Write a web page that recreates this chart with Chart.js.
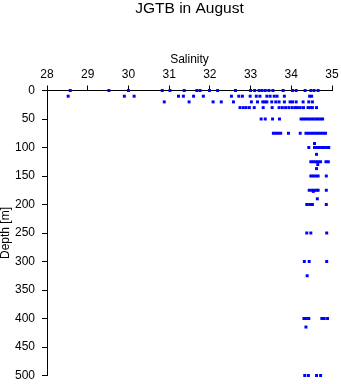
<!DOCTYPE html>
<html><head><meta charset="utf-8">
<script src="https://cdn.jsdelivr.net/npm/chart.js@4"></script>
<style>html,body{margin:0;padding:0;background:#fff}#wrap{width:341px;height:384px}</style>
</head><body><div id="wrap"><canvas id="c" width="341" height="384"></canvas></div>
<script>
// Sample depths [m]
const depthLevels = [0, 10, 20, 30, 50, 75, 93, 100, 112, 125, 130, 137, 150, 175, 177, 190, 200, 250, 300, 325, 400, 415, 500];
// Salinity readings at each depth
const sal0   = [28.57, 29.52, 30.00, 30.83, 31.02, 31.37, 31.68, 31.76, 31.99, 32.19, 32.63, 33.00, 33.10, 33.21, 33.28, 33.36, 33.45, 33.55, 33.80, 34.03, 34.12, 34.34, 34.48, 34.56, 34.66];
const sal10  = [28.52, 29.90, 30.14, 31.23, 31.35, 31.60, 31.84, 32.53, 32.71, 32.80, 32.99, 33.14, 33.23, 33.40, 33.48, 33.58, 33.65, 33.83, 34.45, 34.50];
const sal20  = [30.88, 31.49, 32.08, 32.28, 32.58, 33.02, 33.17, 33.30, 33.35, 33.40, 33.52, 33.62, 33.70, 33.83, 33.97, 34.03, 34.12, 34.29, 34.43, 34.52];
const sal30  = [32.74, 32.82, 32.89, 32.97, 33.09, 33.31, 33.53, 33.70, 33.78, 33.86, 33.94, 34.02, 34.09, 34.15, 34.22, 34.30, 34.41, 34.47, 34.52, 34.62];
const sal50  = [33.26, 33.36, 33.54, 33.71, 34.24, 34.30, 34.36, 34.42, 34.48, 34.54, 34.60, 34.66, 34.72, 34.77];
const sal75  = [33.56, 33.62, 33.68, 33.74, 33.93, 34.22, 34.36, 34.42, 34.48, 34.54, 34.60, 34.66, 34.72, 34.78, 34.84];
const sal93  = [34.57];
const sal100 = [34.43, 34.57, 34.63, 34.69, 34.75, 34.81, 34.87, 34.92];
const sal112 = [34.62];
const sal125 = [34.48, 34.54, 34.60, 34.66, 34.72, 34.85, 34.91];
const sal130 = [34.65];
const sal137 = [34.62];
const sal150 = [34.48, 34.54, 34.60, 34.66, 34.86];
const sal175 = [34.44, 34.50, 34.56, 34.62, 34.66, 34.86];
const sal177 = [34.54];
const sal190 = [34.64];
const sal200 = [34.38, 34.45, 34.52, 34.86];
const sal250 = [34.38, 34.48, 34.87];
const sal300 = [34.32, 34.44, 34.87];
const sal325 = [34.39];
const sal400 = [34.31, 34.37, 34.43, 34.75, 34.81, 34.89];
const sal415 = [34.36];
const sal500 = [34.33, 34.42, 34.62, 34.72];
const salinityByLevel = [sal0, sal10, sal20, sal30, sal50, sal75, sal93, sal100, sal112, sal125, sal130, sal137, sal150, sal175, sal177, sal190, sal200, sal250, sal300, sal325, sal400, sal415, sal500];

const xTicks = [28, 29, 30, 31, 32, 33, 34, 35];
const yTicks = [0, 50, 100, 150, 200, 250, 300, 350, 400, 450, 500];

const points = [];
depthLevels.forEach((d, i) => salinityByLevel[i].forEach(s => points.push({x: s, y: d})));

const FONT = "'Liberation Sans', Arial, Helvetica, sans-serif";
const noPad = s => { s.paddingLeft = 0; s.paddingRight = 0; s.paddingTop = 0; s.paddingBottom = 0; };
const TITLE_H = 15.5 * 1.1;

new Chart(document.getElementById('c'), {
  type: 'scatter',
  data: {
    datasets: [{
      data: points,
      pointStyle: 'rect',
      pointRadius: 2.1,
      pointBorderWidth: 0,
      backgroundColor: '#0000ff',
      borderColor: '#0000ff',
      clip: false
    }]
  },
  options: {
    responsive: false,
    animation: false,
    layout: { padding: { left: 0, right: 9, top: 0, bottom: 8.5 } },
    plugins: {
      legend: { display: false },
      tooltip: { enabled: false },
      title: {
        display: true,
        fullSize: false,
        text: 'JGTB in August',
        color: '#000',
        font: { family: FONT, size: 15.5, weight: 'normal', lineHeight: 1.1 },
        padding: { top: 0, bottom: 0 },
        align: 'center'
      }
    },
    scales: {
      x: {
        type: 'linear',
        position: 'top',
        min: 28, max: 35,
        afterBuildTicks: s => { s.ticks = xTicks.map(v => ({value: v})); },
        afterFit: s => { s.height = 90.5 - TITLE_H; noPad(s); },
        grid: { display: true, drawOnChartArea: false, drawTicks: true, tickLength: 5, color: '#000', lineWidth: 1 },
        border: { display: true, color: '#000', width: 1 },
        ticks: { color: '#000', padding: 4, maxRotation: 0, font: { family: FONT, size: 12 } },
        title: {
          display: true, text: 'Salinity', color: '#000',
          font: { family: FONT, size: 12, lineHeight: 1.2 },
          padding: { top: 60 - TITLE_H - 7.2, bottom: 0 }
        }
      },
      y: {
        type: 'linear',
        position: 'left',
        reverse: true,
        min: 0, max: 500,
        afterBuildTicks: s => { s.ticks = yTicks.map(v => ({value: v})); },
        afterFit: s => { s.width = 47; noPad(s); },
        grid: { display: true, drawOnChartArea: false, drawTicks: true, tickLength: 5, color: '#000', lineWidth: 1 },
        border: { display: true, color: '#000', width: 1 },
        ticks: { color: '#000', padding: 7, font: { family: FONT, size: 12 } },
        title: {
          display: true, text: 'Depth [m]', color: '#000',
          font: { family: FONT, size: 12, lineHeight: 1 },
          padding: { top: 0, bottom: 0 }
        }
      }
    }
  }
});
</script>
</body></html>
